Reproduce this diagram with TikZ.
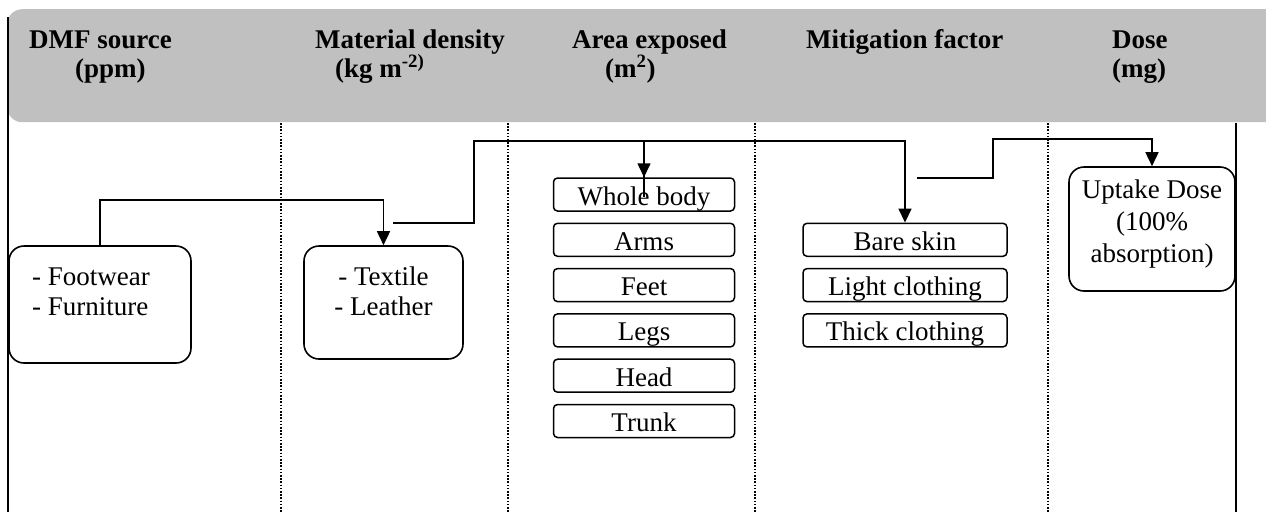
\documentclass[tikz,border=0pt]{standalone}
\usepackage{fontspec}
\setmainfont{Liberation Serif}
\usetikzlibrary{arrows.meta}
\definecolor{hdrgray}{HTML}{C0C0C0}
\begin{document}
\begin{tikzpicture}[x=1pt,y=-1pt,
  txt/.style={inner sep=0pt,font=\fontsize{27}{31}\selectfont},
  hdr/.style={anchor=base west,inner sep=0pt,font=\fontsize{27}{31}\selectfont\bfseries},
  bigbox/.style={draw,line width=1.6pt,rounded corners=15pt,inner sep=0pt},
  smallbox/.style={draw,line width=1.5pt,rounded corners=4pt,inner sep=0pt,
    minimum height=33pt,text height=21pt,text depth=0pt,font=\fontsize{27}{31}\selectfont},
  conn/.style={line width=1.6pt},
  arr/.style={conn,-{Triangle[length=14pt,width=13pt]}},
  sep/.style={line width=1.8pt,dash pattern=on 1.6pt off 1.6pt},
  wall/.style={line width=1.5pt}]
\useasboundingbox (0,0) rectangle (1266,512);

% header band
\node[fill=hdrgray,rounded corners=15pt,minimum width=1300pt,minimum height=113pt,
  inner sep=0pt,anchor=north west] (header) at (7,9) {};

% column walls and separators
\coordinate (wl0) at (8,17);   \coordinate (wl1) at (8,512);
\coordinate (wr0) at (1236,123); \coordinate (wr1) at (1236,512);
\draw[wall] (wl0) -- (wl1);
\draw[wall] (wr0) -- (wr1);
\foreach \x [count=\i] in {281,508,755,1048}{
  \coordinate (s\i a) at (\x,123);
  \coordinate (s\i b) at (\x,512);
  \draw[sep] (s\i a) -- (s\i b);
}

% header texts
\node[hdr] (h1) at (29,48) {DMF source};
\node[hdr] (h2) at (75,77) {(ppm)};
\node[hdr] (h3) at (315,48) {Material density};
\node[hdr] (h4) at (335,77) {(kg m\textsuperscript{-2)}};
\node[hdr] (h5) at (572,48) {Area exposed};
\node[hdr] (h6) at (605,77) {(m\textsuperscript{2})};
\node[hdr] (h7) at (806,48) {Mitigation factor};
\node[hdr] (h8) at (1112,48) {Dose};
\node[hdr] (h9) at (1112,77) {(mg)};

% DMF source box
\node[bigbox,minimum width=182pt,minimum height=117pt] (foot) at (100,304.5) {};
\node[txt,anchor=base west] (ft1) at (32,285) {- Footwear};
\node[txt,anchor=base west] (ft2) at (32,315) {- Furniture};

% Material box
\node[bigbox,minimum width=159pt,minimum height=113pt] (tex) at (383.5,302.5) {};
\node[txt,anchor=base] (tx1) at (383.5,285) {- Textile};
\node[txt,anchor=base] (tx2) at (383.5,315) {- Leather};

% Area boxes
\foreach \n/\t [count=\i from 0] in {whole/Whole body,arms/Arms,feet/Feet,legs/Legs,head/Head,trunk/Trunk}{
  \node[smallbox,minimum width=181pt] (\n) at (644,194.5+45.3*\i) {\t};
}

% Mitigation boxes
\foreach \n/\t [count=\i from 1] in {bare/Bare skin,light/Light clothing,thick/Thick clothing}{
  \node[smallbox,minimum width=204pt] (\n) at (905,194.5+45.3*\i) {\t};
}

% Dose box
\node[bigbox,minimum width=166pt,minimum height=124pt] (up) at (1152,229) {};
\node[txt,anchor=base] (u1) at (1152,198) {Uptake Dose};
\node[txt,anchor=base] (u2) at (1152,230) {(100\%};
\node[txt,anchor=base] (u3) at (1152,262) {absorption)};

% connectors
\draw[arr] (foot.north) -- ++(0,-45) -| (tex.north);

\coordinate (t2) at (393,223);
\coordinate (k1) at (474,141);
\draw[arr] (t2) -| (k1) -| (whole.north);

\coordinate (w3) at (644,197);
\draw[arr] (w3) -- (w3 |- k1) -| (bare.north);

\coordinate (m4) at (917,178);
\coordinate (k4) at (993,139);
\draw[arr] (m4) -| (k4) -| (up.north);
\end{tikzpicture}
\end{document}
